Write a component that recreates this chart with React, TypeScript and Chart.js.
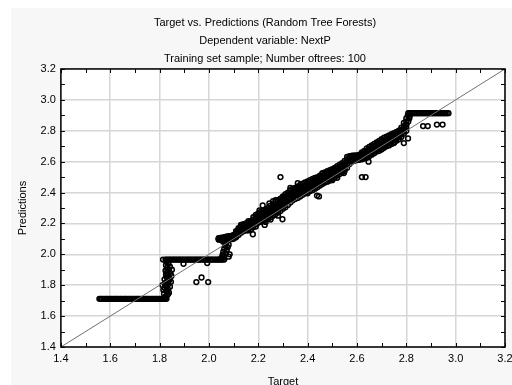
import React, { useEffect, useRef } from 'react';
import { Chart, registerables } from 'chart.js';

Chart.register(...registerables);

const titleLines = [
  'Target vs. Predictions (Random Tree Forests)',
  'Dependent variable: NextP',
  'Training set sample; Number oftrees: 100',
];
const xAxisTitle = 'Target';
const yAxisTitle = 'Predictions';
const axisMin = 1.4;
const axisMax = 3.2;
const tickStep = 0.2;

// Flat run of predictions at the lowest level
const lowFlatLevel = 1.712;
const lowFlatTarget = [
  1.556, 1.561, 1.566, 1.572, 1.578, 1.583, 1.588, 1.594, 1.600, 1.605, 1.611, 1.617, 1.622,
  1.627, 1.633, 1.639, 1.644, 1.650, 1.656, 1.661, 1.666, 1.672, 1.678, 1.683, 1.689, 1.694,
  1.700, 1.706, 1.711, 1.716, 1.722, 1.728, 1.733, 1.739, 1.745, 1.750, 1.755, 1.761, 1.767,
  1.772, 1.778, 1.784, 1.789, 1.794, 1.800, 1.806, 1.811, 1.817, 1.822, 1.828,
];

// First rise (target ~1.82)
const rise1Target = [
  1.822, 1.830, 1.818, 1.838, 1.826, 1.834, 1.820, 1.842, 1.828, 1.836, 1.824, 1.846, 1.832,
  1.820, 1.840, 1.828, 1.836, 1.826, 1.844, 1.832, 1.824, 1.838, 1.830, 1.842, 1.826, 1.836,
  1.829, 1.812, 1.815, 1.848, 1.850, 1.834, 1.822, 1.840, 1.830,
];
const rise1Pred = [
  1.725, 1.735, 1.745, 1.752, 1.762, 1.775, 1.783, 1.790, 1.798, 1.808, 1.815, 1.822, 1.830,
  1.838, 1.845, 1.853, 1.862, 1.870, 1.878, 1.886, 1.895, 1.903, 1.912, 1.920, 1.930, 1.940,
  1.950, 1.800, 1.770, 1.860, 1.900, 1.742, 1.805, 1.835, 1.880,
];

// Second flat level
const midFlatLevel = 1.966;
const midFlatTarget = [
  1.814, 1.824, 1.829, 1.835, 1.841, 1.846, 1.852, 1.858, 1.863, 1.869, 1.875, 1.880, 1.886,
  1.892, 1.897, 1.903, 1.909, 1.914, 1.920, 1.926, 1.931, 1.937, 1.943, 1.948, 1.954, 1.960,
  1.965, 1.971, 1.977, 1.982, 1.988, 1.994, 1.999, 2.005, 2.011, 2.016, 2.022, 2.028, 2.033,
  2.039, 2.045, 2.050, 2.056, 2.062,
];

// Second rise (target ~2.06)
const rise2Target = [
  2.050, 2.062, 2.055, 2.068, 2.058, 2.072, 2.062, 2.076, 2.066, 2.080, 2.070, 2.058, 2.074,
  2.064, 2.084, 2.080,
];
const rise2Pred = [
  1.975, 1.985, 1.995, 2.005, 2.015, 2.025, 2.035, 2.045, 2.055, 2.062, 2.072, 2.082, 2.090,
  2.098, 2.000, 1.985,
];

// Main band: target columns with several predictions each
const bandTarget = [
  2.04, 2.05, 2.06, 2.07, 2.08, 2.09, 2.10, 2.11, 2.12, 2.13, 2.14, 2.15, 2.16, 2.17, 2.18,
  2.19, 2.20, 2.21, 2.22, 2.23, 2.24, 2.25, 2.26, 2.27, 2.28, 2.29, 2.30, 2.31, 2.32, 2.33,
  2.34, 2.35, 2.36, 2.37, 2.38, 2.39, 2.40, 2.41, 2.42, 2.43, 2.44, 2.45, 2.46, 2.47, 2.48,
  2.49, 2.50, 2.51, 2.52, 2.53, 2.54, 2.55, 2.56, 2.57, 2.58, 2.59, 2.60, 2.61, 2.62, 2.63,
  2.64, 2.65, 2.66, 2.67, 2.68, 2.69, 2.70, 2.71, 2.72, 2.73, 2.74, 2.75, 2.76, 2.77, 2.78,
  2.79, 2.80,
];
const bandPredLow = [
  2.095, 2.092, 2.095, 2.098, 2.100, 2.098, 2.100, 2.110, 2.125, 2.140, 2.150, 2.155, 2.155,
  2.160, 2.175, 2.195, 2.205, 2.210, 2.215, 2.225, 2.230, 2.240, 2.250, 2.260, 2.270, 2.280,
  2.295, 2.305, 2.320, 2.335, 2.350, 2.360, 2.365, 2.375, 2.385, 2.395, 2.405, 2.410, 2.415,
  2.425, 2.435, 2.445, 2.455, 2.465, 2.470, 2.478, 2.488, 2.498, 2.510, 2.520, 2.530, 2.540,
  2.560, 2.585, 2.600, 2.605, 2.610, 2.612, 2.615, 2.620, 2.625, 2.635, 2.645, 2.655, 2.665,
  2.670, 2.680, 2.690, 2.700, 2.705, 2.715, 2.725, 2.735, 2.745, 2.760, 2.780, 2.800,
];
const bandPredLowMid = [
  2.098, 2.096, 2.100, 2.104, 2.105, 2.104, 2.108, 2.120, 2.138, 2.155, 2.162, 2.168, 2.166,
  2.176, 2.192, 2.212, 2.222, 2.228, 2.232, 2.243, 2.250, 2.260, 2.270, 2.280, 2.290, 2.300,
  2.315, 2.328, 2.342, 2.358, 2.370, 2.380, 2.385, 2.392, 2.402, 2.412, 2.422, 2.428, 2.432,
  2.442, 2.452, 2.462, 2.472, 2.482, 2.488, 2.494, 2.504, 2.514, 2.525, 2.535, 2.545, 2.555,
  2.580, 2.605, 2.615, 2.618, 2.620, 2.624, 2.628, 2.632, 2.640, 2.650, 2.660, 2.670, 2.680,
  2.685, 2.695, 2.705, 2.715, 2.720, 2.730, 2.740, 2.750, 2.760, 2.775, 2.795, 2.820,
];
const bandPredMid = [
  2.100, 2.100, 2.105, 2.110, 2.110, 2.110, 2.115, 2.130, 2.150, 2.170, 2.175, 2.180, 2.180,
  2.190, 2.210, 2.230, 2.240, 2.245, 2.250, 2.260, 2.270, 2.280, 2.290, 2.300, 2.310, 2.320,
  2.335, 2.350, 2.365, 2.380, 2.390, 2.400, 2.405, 2.410, 2.420, 2.430, 2.440, 2.445, 2.450,
  2.460, 2.470, 2.480, 2.490, 2.500, 2.505, 2.510, 2.520, 2.530, 2.540, 2.550, 2.560, 2.570,
  2.600, 2.625, 2.630, 2.630, 2.630, 2.635, 2.640, 2.645, 2.655, 2.665, 2.675, 2.685, 2.695,
  2.700, 2.710, 2.720, 2.730, 2.735, 2.745, 2.755, 2.765, 2.775, 2.790, 2.810, 2.840,
];
const bandPredMidHigh = [
  2.103, 2.104, 2.108, 2.112, 2.114, 2.115, 2.120, 2.140, 2.160, 2.180, 2.185, 2.190, 2.192,
  2.202, 2.225, 2.242, 2.252, 2.260, 2.268, 2.275, 2.285, 2.298, 2.308, 2.320, 2.330, 2.340,
  2.355, 2.370, 2.382, 2.398, 2.408, 2.415, 2.422, 2.430, 2.439, 2.448, 2.456, 2.462, 2.469,
  2.478, 2.485, 2.495, 2.505, 2.515, 2.522, 2.528, 2.536, 2.545, 2.555, 2.565, 2.575, 2.588,
  2.615, 2.630, 2.634, 2.635, 2.635, 2.640, 2.650, 2.658, 2.670, 2.680, 2.690, 2.700, 2.710,
  2.718, 2.728, 2.738, 2.746, 2.752, 2.762, 2.770, 2.778, 2.788, 2.805, 2.830, 2.860,
];
const bandPredHigh = [
  2.105, 2.108, 2.110, 2.115, 2.118, 2.120, 2.125, 2.150, 2.170, 2.190, 2.195, 2.200, 2.205,
  2.215, 2.240, 2.255, 2.265, 2.275, 2.285, 2.290, 2.300, 2.315, 2.325, 2.340, 2.350, 2.360,
  2.375, 2.390, 2.400, 2.415, 2.425, 2.430, 2.440, 2.450, 2.458, 2.465, 2.472, 2.480, 2.488,
  2.495, 2.500, 2.510, 2.520, 2.530, 2.538, 2.545, 2.552, 2.560, 2.570, 2.580, 2.590, 2.605,
  2.630, 2.635, 2.638, 2.640, 2.640, 2.645, 2.660, 2.670, 2.685, 2.695, 2.705, 2.715, 2.725,
  2.735, 2.745, 2.755, 2.762, 2.770, 2.778, 2.785, 2.792, 2.800, 2.820, 2.850, 2.880,
];

// Cases lying along the band's edges
const edgeTarget = [
  2.160, 2.205, 2.230, 2.245, 2.250, 2.260, 2.330, 2.350, 2.360, 2.500, 2.520, 2.700, 2.750,
  2.770, 2.190, 2.280, 2.400, 2.460,
];
const edgePred = [
  2.215, 2.285, 2.210, 2.330, 2.225, 2.345, 2.430, 2.360, 2.460, 2.480, 2.495, 2.680, 2.720,
  2.760, 2.180, 2.250, 2.395, 2.525,
];

// Final rise and top flat level
const rise3Target = [2.808, 2.812, 2.806, 2.814];
const rise3Pred = [2.860, 2.880, 2.900, 2.895];
const topFlatLevel = 2.914;
const topFlatTarget = [
  2.808, 2.814, 2.820, 2.826, 2.831, 2.838, 2.844, 2.850, 2.855, 2.862, 2.868, 2.874, 2.880,
  2.886, 2.891, 2.898, 2.904, 2.910, 2.916, 2.922, 2.928, 2.934, 2.940, 2.946, 2.952, 2.958,
  2.964, 2.971,
];

// Scattered cases away from the main steps
const outlierTarget = [
  1.897, 1.993, 1.949, 1.970, 1.997, 2.058, 2.178, 2.226, 2.218, 2.218, 2.270, 2.298, 2.318,
  2.298, 2.290, 2.438, 2.446, 2.547, 2.620, 2.635, 2.647, 2.790, 2.807, 2.800, 2.868, 2.887,
  2.924, 2.947, 2.306,
];
const outlierPred = [
  1.939, 1.943, 1.820, 1.850, 1.820, 1.985, 2.130, 2.190, 2.270, 2.316, 2.350, 2.367, 2.386,
  2.227, 2.500, 2.380, 2.375, 2.526, 2.500, 2.500, 2.600, 2.720, 2.750, 2.840, 2.830, 2.830,
  2.840, 2.840, 2.373,
];

function pairs(xs: number[], ys: number[]) {
  return xs.map((x, i) => ({ x, y: ys[i] }));
}
function level(xs: number[], y: number) {
  return xs.map((x) => ({ x, y }));
}

const framePlugin = {
  id: 'frame',
  beforeDraw(chart: any) {
    const { ctx, chartArea } = chart;
    ctx.save();
    ctx.fillStyle = '#ffffff';
    ctx.fillRect(chartArea.left, chartArea.top, chartArea.right - chartArea.left, chartArea.bottom - chartArea.top);
    ctx.restore();
  },
  afterDraw(chart: any) {
    const { ctx, chartArea, scales } = chart;
    const { left, right, top, bottom } = chartArea;
    ctx.save();
    ctx.strokeStyle = '#000';
    ctx.lineWidth = 1;
    const n = Math.round((axisMax - axisMin) / (tickStep / 2));
    for (let i = 0; i <= n; i++) {
      const v = axisMin + (i * tickStep) / 2;
      const px = Math.round(scales.x.getPixelForValue(v)) + 0.5;
      const py = Math.round(scales.y.getPixelForValue(v)) + 0.5;
      ctx.beginPath();
      ctx.moveTo(px, bottom); ctx.lineTo(px, bottom - 4);
      ctx.moveTo(px, top); ctx.lineTo(px, top + 4);
      ctx.moveTo(left, py); ctx.lineTo(left + 4, py);
      ctx.moveTo(right, py); ctx.lineTo(right - 4, py);
      ctx.stroke();
    }
    ctx.lineWidth = 1.5;
    ctx.strokeRect(left, top, right - left, bottom - top);
    ctx.restore();
  },
};

export default function App() {
  const ref = useRef<HTMLCanvasElement | null>(null);
  useEffect(() => {
    if (!ref.current) return;
    const font = { family: '"Liberation Sans", Arial, sans-serif', size: 11 };
    const pointStyle = {
      type: 'scatter' as const,
      pointRadius: 2.4,
      pointBorderWidth: 1.5,
      pointBorderColor: '#000',
      pointBackgroundColor: 'rgba(255,255,255,0)',
      showLine: false,
      order: 1,
    };
    const scatterData = [
      ...level(lowFlatTarget, lowFlatLevel),
      ...pairs(rise1Target, rise1Pred),
      ...level(midFlatTarget, midFlatLevel),
      ...pairs(rise2Target, rise2Pred),
      ...pairs(bandTarget, bandPredLow),
      ...pairs(bandTarget, bandPredLowMid),
      ...pairs(bandTarget, bandPredMid),
      ...pairs(bandTarget, bandPredMidHigh),
      ...pairs(bandTarget, bandPredHigh),
      ...pairs(edgeTarget, edgePred),
      ...pairs(rise3Target, rise3Pred),
      ...level(topFlatTarget, topFlatLevel),
      ...pairs(outlierTarget, outlierPred),
    ];
    const chart = new Chart(ref.current, {
      type: 'scatter',
      data: {
        datasets: [
          { ...pointStyle, label: 'Predictions', data: scatterData },
          {
            type: 'line' as const,
            label: 'Identity',
            data: [
              { x: axisMin, y: axisMin },
              { x: axisMax, y: axisMax },
            ],
            borderColor: '#707070',
            borderWidth: 1,
            pointRadius: 0,
            showLine: true,
            order: 0,
          },
        ],
      },
      options: {
        responsive: false,
        animation: false,
        layout: { padding: { left: 11, right: 0, top: 0, bottom: 1.4 } },
        plugins: {
          legend: { display: false },
          tooltip: { enabled: false },
          title: {
            display: true,
            text: titleLines,
            color: '#000',
            font: { ...font, weight: 'normal', lineHeight: 1.62 },
            padding: { top: 14, bottom: 1.5 },
          },
        },
        scales: {
          x: {
            type: 'linear',
            min: axisMin,
            max: axisMax,
            afterFit: (scale: any) => {
              scale.paddingRight = 14;
            },
            ticks: {
              stepSize: tickStep,
              color: '#000',
              font,
              padding: 5,
              maxRotation: 0,
              autoSkip: false,
              callback: (v: any) => Number(v).toFixed(1),
            },
            grid: { color: '#d6d6d6', lineWidth: 1.5, drawTicks: false },
            border: { display: false },
            title: { display: true, text: xAxisTitle, color: '#000', font, padding: { top: 5.2, bottom: 2 } },
          },
          y: {
            type: 'linear',
            min: axisMin,
            max: axisMax,
            ticks: {
              stepSize: tickStep,
              color: '#000',
              font,
              padding: 5,
              autoSkip: false,
              callback: (v: any) => Number(v).toFixed(1),
            },
            grid: { color: '#d6d6d6', lineWidth: 1.5, drawTicks: false },
            border: { display: false },
            title: { display: true, text: yAxisTitle, color: '#000', font, padding: { top: 5.4, bottom: 6 } },
          },
        },
      },
      plugins: [framePlugin],
    });
    return () => chart.destroy();
  }, []);

  return (
    <div style={{ position: 'fixed', left: 0, top: 0, width: 519, height: 392, background: '#ffffff', overflow: 'hidden' }}>
      <div style={{ position: 'absolute', left: 11, top: 8, right: 0, bottom: 0, background: '#f7f7f7' }} />
      <canvas ref={ref} width={519} height={392} style={{ position: 'absolute', left: 0, top: 0 }} />
    </div>
  );
}
